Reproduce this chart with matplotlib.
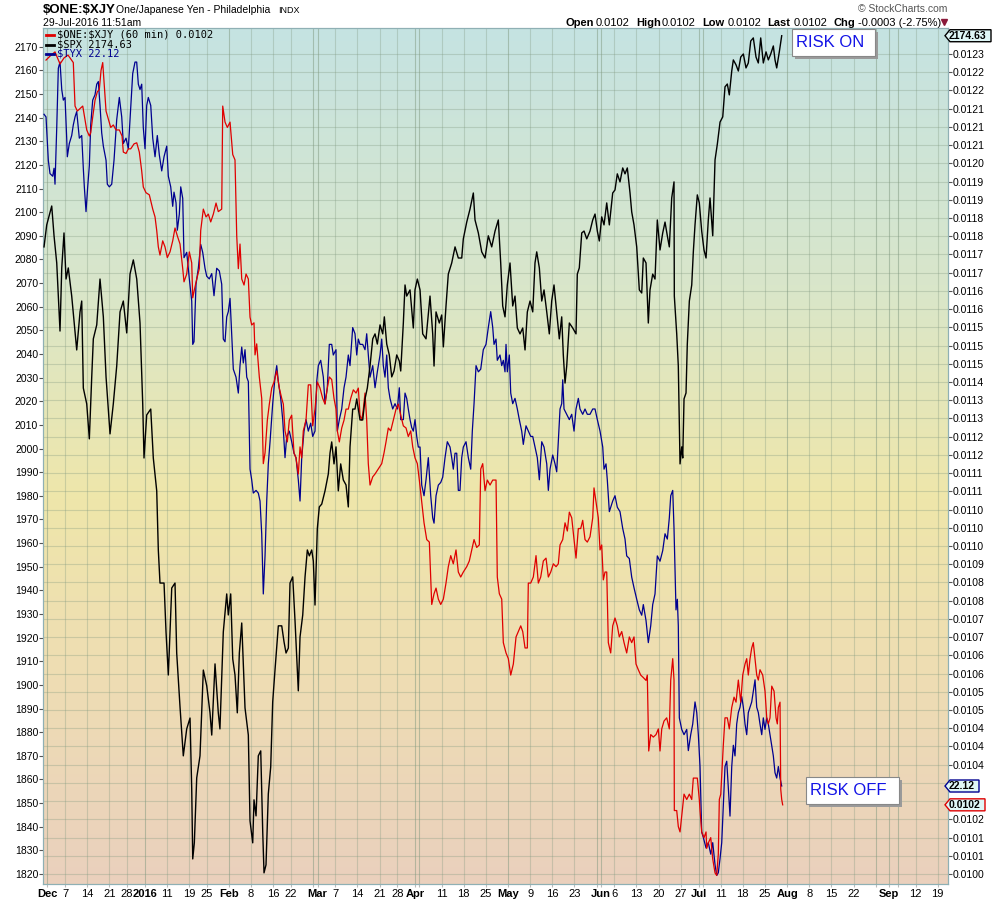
import numpy as np
import matplotlib
matplotlib.use('Agg')
import matplotlib.pyplot as plt
from matplotlib.colors import LinearSegmentedColormap
from matplotlib.patches import Rectangle, Polygon
from matplotlib.lines import Line2D

plt.rcParams['font.family'] = ['Liberation Sans', 'DejaVu Sans']

# time axis = trading days counted from 2015-12-07 (weekends / holidays squeezed out)
START = '2015-12-07'
holidays = ['2015-11-26', '2015-12-25', '2016-01-01', '2016-01-18', '2016-02-15',
            '2016-03-25', '2016-05-30', '2016-07-04', '2016-09-05']

# $SPX (left scale)
spx_pts = [
    (-4.74, 2085.3), (-4.13, 2094.6), (-3.0, 2102.6), (-2.48, 2090.0), (-1.87, 2078.5), (-1.13, 2049.7),
    (-0.74, 2076.4), (-0.23, 2091.2), (0.23, 2071.7), (0.74, 2076.4), (1.51, 2064.5), (2.64, 2041.7),
    (3.39, 2057.8), (3.77, 2062.4), (4.13, 2025.6), (4.9, 2018.9), (5.49, 2004.1), (6.03, 2030.3),
    (6.39, 2046.4), (7.16, 2052.3), (7.9, 2071.7), (8.65, 2055.7), (9.26, 2030.3), (9.77, 2016.7),
    (10.16, 2006.2), (10.9, 2018.9), (11.67, 2034.9), (12.42, 2057.8), (13.16, 2062.4), (13.93, 2048.9),
    (14.67, 2073.8), (15.42, 2079.8), (16.19, 2071.7), (16.93, 2053.1), (17.54, 2018.9), (17.83, 1996.0),
    (18.44, 2014.2), (19.35, 2016.7), (19.93, 1996.0), (20.7, 1982.1), (21.06, 1957.1), (21.44, 1943.1),
    (22.35, 1943.1), (22.8, 1922.4), (23.32, 1904.2), (24.09, 1941.0), (24.83, 1943.1), (25.21, 1913.5),
    (25.96, 1890.7), (26.7, 1870.0), (27.47, 1881.4), (28.22, 1886.0), (28.6, 1856.0), (28.83, 1826.4),
    (29.19, 1833.2), (29.73, 1860.7), (30.47, 1870.0), (31.22, 1906.3), (31.99, 1899.6), (32.73, 1888.2),
    (33.12, 1878.8), (33.86, 1908.9), (34.6, 1888.2), (34.97, 1881.4), (35.73, 1922.4), (36.5, 1938.5),
    (36.86, 1929.6), (37.4, 1938.5), (37.86, 1911.0), (38.37, 1904.2), (38.89, 1888.2), (39.35, 1913.5),
    (39.89, 1926.2), (40.25, 1908.9), (40.63, 1890.3), (41.38, 1878.8), (41.76, 1842.5), (42.37, 1833.2),
    (42.66, 1851.4), (43.12, 1844.6), (43.63, 1870.0), (44.18, 1872.1), (44.63, 1837.8), (44.92, 1820.5),
    (45.37, 1823.9), (45.89, 1853.9), (46.43, 1865.3), (46.88, 1892.8), (47.4, 1906.3), (48.15, 1925.0),
    (48.92, 1925.0), (49.44, 1918.2), (49.89, 1913.5), (50.41, 1915.6), (50.79, 1943.1), (51.4, 1945.7),
    (51.92, 1927.1), (52.66, 1897.5), (53.05, 1920.3), (53.66, 1929.6), (54.18, 1945.7), (54.7, 1957.1),
    (55.15, 1954.6), (55.69, 1957.1), (56.05, 1952.4), (56.43, 1933.8), (56.95, 1966.0), (57.4, 1975.3),
    (57.95, 1976.5), (58.69, 1982.1), (59.44, 1989.3), (59.82, 1998.1), (60.2, 2002.8), (60.72, 1993.5),
    (61.17, 2000.7), (61.69, 1982.1), (62.23, 1993.5), (62.82, 1986.7), (63.43, 1984.6), (63.95, 1975.3),
    (64.33, 2000.7), (64.94, 2016.7), (65.46, 2016.7), (65.85, 2021.0), (66.59, 2012.1), (67.2, 2012.1),
    (67.72, 2021.0), (68.24, 2025.6), (68.85, 2034.9), (69.46, 2046.4), (69.98, 2048.5), (70.5, 2044.2),
    (71.11, 2052.3), (71.72, 2048.5), (72.08, 2055.7), (72.62, 2044.2), (73.2, 2039.6), (73.75, 2030.3),
    (74.27, 2032.8), (74.88, 2039.6), (75.46, 2037.0), (75.78, 2032.8), (76.37, 2053.1), (76.75, 2069.2),
    (77.13, 2064.5), (77.88, 2067.1), (78.62, 2051.0), (79.0, 2067.1), (79.53, 2071.7), (80.14, 2067.1),
    (80.74, 2048.5), (81.49, 2046.4), (82.39, 2064.5), (83.0, 2048.5), (83.3, 2034.9), (83.75, 2057.8),
    (84.49, 2053.1), (85.03, 2056.5), (85.4, 2043.0), (86.0, 2060.3), (86.52, 2073.8), (87.29, 2078.5),
    (88.04, 2085.3), (88.78, 2080.6), (89.55, 2080.6), (89.91, 2088.7), (90.68, 2095.8), (91.42, 2101.3),
    (92.17, 2108.1), (92.55, 2096.7), (93.3, 2091.2), (94.06, 2083.2), (94.81, 2080.6), (95.55, 2090.0),
    (96.32, 2085.3), (97.07, 2092.0), (97.81, 2096.7), (98.35, 2078.5), (98.8, 2060.3), (99.32, 2055.7),
    (99.84, 2069.2), (100.45, 2078.5), (101.06, 2060.3), (101.58, 2064.5), (102.1, 2051.0), (102.71, 2048.5),
    (103.32, 2051.0), (103.84, 2041.7), (104.36, 2057.8), (104.97, 2062.4), (105.58, 2057.8), (106.09, 2078.5),
    (106.48, 2083.2), (107.07, 2076.4), (107.61, 2062.4), (108.13, 2067.1), (108.74, 2057.8), (109.32, 2048.5),
    (109.86, 2062.4), (110.38, 2069.2), (110.99, 2057.8), (111.58, 2046.4), (112.12, 2055.7), (112.48, 2039.6),
    (112.87, 2027.7), (113.25, 2034.9), (113.84, 2053.1), (114.6, 2051.0), (115.35, 2048.5), (115.64, 2073.8),
    (116.09, 2076.4), (116.64, 2091.2), (117.16, 2092.0), (117.77, 2088.7), (118.51, 2092.0), (119.12, 2096.7),
    (119.64, 2099.2), (120.16, 2092.0), (120.61, 2087.8), (121.15, 2098.0), (121.67, 2094.6), (122.28, 2103.9),
    (122.87, 2094.6), (123.63, 2108.1), (124.15, 2109.4), (124.67, 2116.2), (125.28, 2112.8), (125.89, 2118.7),
    (126.41, 2116.2), (126.93, 2118.7), (127.54, 2108.1), (127.92, 2100.1), (128.44, 2094.6), (129.05, 2085.3),
    (129.64, 2067.1), (130.18, 2065.8), (130.54, 2080.6), (131.15, 2078.5), (131.67, 2053.1), (132.05, 2067.1),
    (132.66, 2073.8), (133.18, 2071.7), (133.7, 2096.7), (134.31, 2084.0), (134.92, 2091.2), (135.44, 2095.8),
    (135.96, 2090.0), (136.41, 2085.3), (136.95, 2106.0), (137.47, 2112.8), (137.54, 2064.5), (138.08, 2048.5),
    (138.44, 2034.9), (138.83, 1993.5), (139.21, 2000.7), (139.44, 1996.0), (139.73, 2021.0), (140.18, 2023.5),
    (140.47, 2044.2), (140.93, 2062.4), (141.47, 2069.2), (141.83, 2083.2), (142.21, 2094.6), (142.73, 2107.3),
    (143.18, 2103.9), (143.72, 2092.0), (144.24, 2084.0), (144.7, 2080.6), (145.21, 2096.7), (145.6, 2106.0),
    (146.21, 2090.0), (146.73, 2122.1), (147.25, 2128.8), (147.86, 2138.1), (148.47, 2140.3), (148.98, 2153.0),
    (149.5, 2154.2), (149.95, 2149.6), (150.5, 2159.7), (150.86, 2164.4), (151.47, 2162.3), (151.99, 2159.7),
    (152.53, 2165.6), (153.12, 2166.9), (153.72, 2161.0), (154.24, 2163.1), (154.79, 2172.4), (155.37, 2173.7),
    (155.98, 2165.6), (156.5, 2163.1), (157.04, 2173.7), (157.63, 2163.1), (158.24, 2167.8), (158.76, 2164.4),
    (159.3, 2166.9), (159.89, 2170.3), (160.27, 2164.4), (160.65, 2161.0), (161.24, 2167.8), (161.78, 2174.63),
]

# $ONE:$XJY (right scale)
xjy_pts = [
    (-4.29, 0.012283), (-3.39, 0.012294), (-2.26, 0.012306), (-1.13, 0.012272), (-0.23, 0.012289), (0.68, 0.012297),
    (1.87, 0.012276), (2.26, 0.012154), (2.78, 0.012140), (3.39, 0.012147), (4.0, 0.012154), (4.29, 0.012132),
    (4.9, 0.012087), (5.49, 0.012070), (5.8, 0.012079), (6.25, 0.012123), (6.77, 0.012170), (7.29, 0.012194),
    (7.74, 0.012200), (8.13, 0.012254), (8.51, 0.012276), (8.8, 0.012223), (9.26, 0.012140), (9.77, 0.012118),
    (10.32, 0.012094), (10.9, 0.012101), (11.51, 0.012087), (12.26, 0.012087), (12.87, 0.012070), (13.16, 0.012025),
    (13.77, 0.012021), (14.29, 0.012034), (14.83, 0.012034), (15.58, 0.012048), (16.19, 0.012051), (16.77, 0.012025),
    (17.31, 0.011972), (17.67, 0.011927), (18.28, 0.011911), (19.03, 0.011905), (19.8, 0.011865), (20.32, 0.011843),
    (20.7, 0.011805), (21.06, 0.011759), (21.44, 0.011736), (22.05, 0.011776), (22.57, 0.011759), (23.09, 0.011729),
    (23.7, 0.011745), (24.31, 0.011776), (24.83, 0.011812), (25.35, 0.011790), (25.96, 0.011767), (26.57, 0.011698),
    (26.86, 0.011661), (27.47, 0.011683), (28.06, 0.011745), (28.6, 0.011714), (28.83, 0.011616), (29.19, 0.011638),
    (29.73, 0.011669), (30.32, 0.011698), (30.63, 0.011805), (31.22, 0.011865), (31.83, 0.011843), (32.35, 0.011851),
    (32.89, 0.011829), (33.48, 0.011851), (34.09, 0.011882), (34.6, 0.011858), (35.37, 0.011865), (35.6, 0.012154),
    (36.12, 0.012109), (36.64, 0.012094), (37.25, 0.012109), (37.86, 0.012018), (38.37, 0.012003), (38.76, 0.011790),
    (39.12, 0.011698), (39.5, 0.011767), (39.89, 0.011669), (40.41, 0.011652), (40.86, 0.011683), (41.38, 0.011669),
    (41.76, 0.011562), (42.14, 0.011540), (42.66, 0.011546), (42.89, 0.011456), (43.27, 0.011487), (43.86, 0.011394),
    (44.4, 0.011334), (44.76, 0.011151), (45.15, 0.011181), (45.67, 0.011273), (46.12, 0.011318), (46.66, 0.011363),
    (47.18, 0.011380), (47.79, 0.011411), (48.37, 0.011363), (48.92, 0.011334), (49.28, 0.011318), (49.66, 0.011243),
    (50.18, 0.011212), (50.63, 0.011273), (51.17, 0.011287), (51.69, 0.011181), (52.14, 0.011167), (52.66, 0.011122),
    (53.05, 0.011198), (53.43, 0.011167), (53.79, 0.011243), (54.4, 0.011273), (54.92, 0.011372), (55.46, 0.011372),
    (55.91, 0.011257), (56.43, 0.011304), (56.95, 0.011380), (57.56, 0.011363), (58.17, 0.011334), (58.69, 0.011318),
    (59.21, 0.011363), (59.66, 0.011394), (60.2, 0.011387), (60.72, 0.011334), (61.17, 0.011304), (61.47, 0.011243),
    (61.92, 0.011212), (62.46, 0.011251), (62.98, 0.011273), (63.43, 0.011304), (63.95, 0.011304), (64.49, 0.011334),
    (65.08, 0.011358), (65.69, 0.011349), (66.21, 0.011363), (66.59, 0.011287), (66.98, 0.011273), (67.34, 0.011304),
    (67.72, 0.011349), (68.1, 0.011273), (68.46, 0.011151), (68.85, 0.011091), (69.46, 0.011114), (69.98, 0.011122),
    (70.72, 0.011136), (71.49, 0.011151), (72.01, 0.011181), (72.46, 0.011212), (72.98, 0.011251), (73.52, 0.011243),
    (74.11, 0.011273), (74.72, 0.011304), (75.24, 0.011318), (75.78, 0.011287), (76.37, 0.011257), (76.98, 0.011251),
    (77.49, 0.011227), (78.04, 0.011243), (78.49, 0.011198), (79.01, 0.011167), (79.53, 0.011151), (79.98, 0.011105),
    (80.52, 0.011045), (81.04, 0.010985), (81.65, 0.010938), (82.24, 0.010931), (82.78, 0.010756), (83.3, 0.010786),
    (83.75, 0.010802), (84.27, 0.010771), (84.81, 0.010756), (85.4, 0.010771), (86.0, 0.010816), (86.52, 0.010862),
    (87.07, 0.010893), (87.65, 0.010870), (88.26, 0.010909), (88.78, 0.010847), (89.32, 0.010833), (89.91, 0.010847),
    (90.68, 0.010862), (91.26, 0.010878), (91.8, 0.010909), (92.33, 0.010938), (92.93, 0.010916), (93.52, 0.010923),
    (93.84, 0.011136), (94.29, 0.011151), (94.81, 0.011075), (95.33, 0.011105), (95.94, 0.011091), (96.55, 0.011105),
    (97.29, 0.011105), (97.58, 0.010833), (98.04, 0.010786), (98.58, 0.010771), (98.94, 0.010649), (99.55, 0.010620),
    (100.07, 0.010604), (100.61, 0.010558), (101.2, 0.010589), (101.81, 0.010665), (102.33, 0.010680), (102.87, 0.010696),
    (103.32, 0.010680), (103.84, 0.010634), (104.36, 0.010634), (104.58, 0.010816), (105.12, 0.010816), (105.71, 0.010833),
    (106.32, 0.010893), (106.84, 0.010816), (107.38, 0.010833), (107.97, 0.010878), (108.58, 0.010886), (109.1, 0.010833),
    (109.64, 0.010847), (110.23, 0.010870), (110.84, 0.010862), (111.35, 0.010870), (111.74, 0.010923), (112.35, 0.010938),
    (112.87, 0.010985), (113.39, 0.010962), (113.84, 0.011015), (114.38, 0.010999), (114.9, 0.010938), (115.35, 0.010886),
    (115.87, 0.010969), (116.41, 0.010969), (116.86, 0.010992), (117.38, 0.010938), (117.9, 0.010931), (118.51, 0.010946),
    (119.12, 0.010999), (119.41, 0.011083), (119.86, 0.011045), (120.38, 0.010999), (120.77, 0.010909), (121.15, 0.010923),
    (121.51, 0.010825), (121.9, 0.010847), (122.28, 0.010847), (122.64, 0.010649), (123.18, 0.010620), (123.63, 0.010696),
    (124.15, 0.010718), (124.67, 0.010696), (125.12, 0.010665), (125.67, 0.010680), (126.19, 0.010649), (126.79, 0.010620),
    (127.38, 0.010665), (127.92, 0.010649), (128.44, 0.010665), (128.89, 0.010589), (129.41, 0.010573), (129.95, 0.010558),
    (130.54, 0.010551), (131.15, 0.010543), (131.44, 0.010558), (131.76, 0.010345), (132.21, 0.010391), (132.8, 0.010384),
    (133.41, 0.010391), (133.93, 0.010407), (134.31, 0.010345), (134.7, 0.010407), (135.21, 0.010429), (135.82, 0.010438),
    (136.41, 0.010407), (136.73, 0.010544), (137.18, 0.010604), (137.47, 0.010544), (137.54, 0.010178), (138.08, 0.010178),
    (138.44, 0.010133), (138.83, 0.010118), (139.21, 0.010163), (139.73, 0.010224), (140.34, 0.010209), (140.93, 0.010224),
    (141.47, 0.010209), (141.83, 0.010269), (142.21, 0.010269), (142.73, 0.010269), (143.18, 0.010209), (143.34, 0.010178),
    (143.72, 0.010118), (144.24, 0.010102), (144.7, 0.010118), (144.85, 0.010072), (145.21, 0.010087), (145.76, 0.010102),
    (146.21, 0.010042), (146.73, 0.010003), (147.11, 0.009996), (147.47, 0.010056), (147.7, 0.010209), (148.02, 0.010224),
    (148.6, 0.010362), (148.98, 0.010438), (149.5, 0.010438), (149.95, 0.010407), (150.5, 0.010467), (151.02, 0.010496),
    (151.47, 0.010482), (151.99, 0.010544), (152.53, 0.010482), (152.98, 0.010558), (153.5, 0.010589), (153.88, 0.010604),
    (154.24, 0.010558), (154.63, 0.010604), (155.01, 0.010634), (155.37, 0.010649), (155.76, 0.010604), (156.14, 0.010558),
    (156.5, 0.010544), (156.88, 0.010573), (157.49, 0.010558), (158.01, 0.010513), (158.4, 0.010438), (158.76, 0.010421),
    (159.14, 0.010438), (159.53, 0.010527), (160.05, 0.010513), (160.5, 0.010438), (160.79, 0.010421), (161.02, 0.010467),
    (161.4, 0.010482), (161.56, 0.010238), (161.78, 0.010209), (162.0, 0.010194),
]

# $TYX (own hidden scale)
tyx_pts = [
    (-4.74, 29.71), (-4.29, 29.68), (-3.77, 29.19), (-3.39, 29.04), (-2.78, 29.01), (-2.48, 29.10), (-2.26, 28.92),
    (-1.87, 29.56), (-1.51, 30.23), (-1.13, 30.30), (-0.74, 29.99), (-0.38, 29.87), (0.0, 29.90), (0.38, 29.44),
    (0.52, 29.23), (0.97, 29.38), (1.51, 29.47), (1.87, 29.59), (2.26, 29.68), (2.64, 29.74), (3.23, 29.44),
    (3.77, 29.47), (4.13, 29.10), (4.36, 28.89), (4.74, 28.61), (5.12, 28.89), (5.49, 29.13), (5.80, 29.59),
    (6.25, 29.87), (6.77, 29.93), (7.16, 30.05), (7.52, 30.08), (7.90, 29.81), (8.28, 29.50), (8.65, 29.35),
    (9.26, 29.19), (9.55, 28.92), (10.0, 28.89), (10.54, 28.92), (11.06, 29.19), (11.67, 29.65), (12.26, 29.90),
    (12.80, 29.68), (13.16, 29.38), (13.77, 29.44), (14.29, 29.32), (14.83, 29.78), (15.28, 30.17), (15.80, 30.30),
    (16.18, 30.30), (16.55, 30.05), (16.93, 29.99), (17.31, 30.05), (17.67, 29.56), (18.06, 29.32), (18.44, 29.81),
    (18.80, 29.90), (19.35, 29.81), (19.80, 29.44), (20.32, 29.23), (20.83, 29.47), (21.29, 29.25), (21.83, 29.07),
    (22.35, 29.23), (22.96, 29.35), (23.32, 29.01), (23.86, 28.89), (24.31, 28.67), (24.60, 28.83), (25.06, 28.71),
    (25.35, 28.40), (25.80, 28.58), (26.12, 28.89), (26.57, 28.76), (26.86, 28.09), (27.47, 28.15), (28.06, 27.85),
    (28.60, 27.60), (28.83, 27.11), (29.12, 27.14), (29.57, 27.79), (30.09, 27.97), (30.63, 28.24), (31.08, 28.15),
    (31.60, 27.97), (31.99, 27.88), (32.57, 27.85), (33.12, 27.91), (33.63, 27.66), (34.24, 27.97), (34.83, 27.94),
    (35.37, 27.79), (35.73, 27.17), (36.12, 27.14), (36.50, 27.42), (36.86, 27.48), (37.25, 27.63), (37.63, 27.23),
    (37.99, 26.83), (38.60, 26.74), (39.12, 26.56), (39.50, 26.87), (39.89, 27.08), (40.25, 26.90), (40.63, 27.05),
    (41.02, 26.74), (41.38, 26.69), (41.76, 25.70), (42.14, 25.58), (42.50, 25.43), (43.12, 25.46), (43.63, 25.43),
    (44.02, 25.34), (44.40, 24.97), (44.76, 24.29), (45.15, 24.72), (45.53, 25.34), (45.89, 25.76), (46.28, 26.01),
    (46.88, 26.44), (47.40, 26.74), (47.79, 26.87), (48.15, 26.69), (48.69, 26.50), (49.14, 26.26), (49.66, 25.83),
    (50.05, 26.07), (50.63, 26.13), (51.17, 26.01), (51.69, 25.88), (52.14, 25.83), (52.66, 25.58), (53.05, 25.34),
    (53.43, 25.83), (53.95, 26.13), (54.40, 26.26), (54.92, 26.13), (55.46, 26.22), (55.91, 26.07), (56.43, 26.13),
    (56.82, 26.69), (57.18, 26.87), (57.72, 26.93), (58.31, 26.74), (58.69, 26.44), (59.21, 26.62), (59.66, 27.11),
    (60.20, 27.11), (60.56, 26.99), (61.17, 27.05), (61.47, 26.13), (61.92, 26.26), (62.46, 26.38), (62.98, 26.62),
    (63.43, 26.74), (63.95, 26.99), (64.33, 26.87), (64.94, 27.30), (65.46, 27.23), (65.85, 26.99), (66.21, 27.17),
    (66.59, 27.11), (67.20, 27.11), (67.72, 27.05), (68.10, 27.23), (68.46, 26.99), (68.85, 26.74), (69.46, 26.87),
    (69.98, 26.62), (70.50, 26.80), (71.11, 26.99), (71.49, 27.17), (71.85, 26.87), (72.23, 26.74), (72.62, 26.99),
    (72.98, 26.62), (73.36, 26.50), (73.97, 26.38), (74.49, 26.44), (75.01, 26.38), (75.46, 26.62), (75.78, 26.26),
    (76.37, 26.26), (76.75, 26.56), (77.13, 26.50), (77.49, 26.38), (77.88, 26.26), (78.26, 26.17), (78.62, 26.13),
    (79.01, 26.26), (79.39, 26.07), (79.75, 25.95), (80.14, 25.95), (80.52, 25.52), (81.04, 25.40), (81.49, 25.58),
    (82.01, 25.83), (82.55, 25.40), (83.0, 25.15), (83.30, 25.09), (83.75, 25.40), (84.27, 25.52), (84.81, 25.55),
    (85.26, 25.61), (85.78, 25.83), (86.30, 26.01), (86.91, 25.95), (87.29, 25.83), (87.65, 25.70), (88.04, 25.88),
    (88.42, 25.88), (88.78, 25.46), (89.16, 25.46), (89.55, 25.83), (89.91, 25.95), (90.52, 26.01), (91.04, 25.83),
    (91.58, 25.70), (91.94, 26.13), (92.33, 26.44), (92.78, 26.87), (93.30, 26.80), (93.84, 26.83), (94.42, 27.05),
    (95.03, 27.11), (95.55, 27.30), (96.09, 27.48), (96.55, 27.30), (96.84, 27.11), (97.29, 27.17), (97.58, 26.93),
    (98.19, 26.99), (98.58, 26.87), (98.94, 26.93), (99.32, 26.80), (99.55, 27.11), (99.84, 26.80), (100.29, 26.99),
    (100.61, 26.56), (101.06, 26.44), (101.58, 26.50), (102.10, 26.38), (102.55, 26.26), (103.09, 26.13), (103.45, 25.98),
    (104.06, 26.19), (104.58, 26.13), (105.12, 26.07), (105.58, 26.07), (106.09, 25.95), (106.61, 25.83), (107.07, 25.58),
    (107.61, 26.01), (108.13, 25.95), (108.74, 25.76), (109.10, 25.46), (109.48, 25.70), (110.09, 25.86), (110.61, 25.76),
    (110.99, 25.67), (111.35, 26.01), (111.74, 26.38), (112.12, 26.44), (112.35, 26.71), (112.64, 26.38), (113.25, 26.32),
    (113.84, 26.26), (114.38, 26.32), (114.90, 26.13), (115.35, 26.38), (115.87, 26.50), (116.25, 26.38), (116.86, 26.32),
    (117.38, 26.38), (117.90, 26.32), (118.51, 26.32), (119.12, 26.38), (119.64, 26.38), (120.16, 26.26), (120.77, 26.13),
    (121.38, 25.95), (121.67, 25.70), (122.12, 25.76), (122.41, 25.58), (122.87, 25.22), (123.63, 25.34), (124.15, 25.40),
    (124.67, 25.27), (125.28, 25.22), (125.89, 25.03), (126.41, 24.91), (126.79, 24.72), (127.38, 24.69), (127.92, 24.48),
    (128.44, 24.36), (129.05, 24.23), (129.64, 24.11), (130.18, 24.05), (130.54, 24.17), (131.15, 23.99), (131.67, 23.74),
    (132.21, 23.93), (132.66, 24.17), (133.18, 24.29), (133.70, 24.72), (134.31, 24.66), (134.92, 24.78), (135.44, 24.97),
    (135.96, 24.91), (136.41, 25.15), (136.73, 25.40), (137.18, 25.46), (137.47, 25.03), (137.70, 24.54), (137.92, 24.11),
    (138.22, 24.23), (138.44, 23.93), (138.67, 22.89), (139.21, 22.76), (139.73, 22.70), (140.34, 22.76), (140.70, 22.52),
    (141.24, 22.70), (141.69, 22.82), (142.21, 23.07), (142.60, 22.95), (142.96, 22.70), (143.34, 22.34), (143.72, 21.60),
    (144.08, 21.54), (144.70, 21.42), (145.21, 21.48), (145.76, 21.35), (146.21, 21.48), (146.73, 21.23), (147.11, 21.11),
    (147.47, 21.14), (147.86, 21.30), (148.24, 21.48), (148.60, 21.91), (148.98, 22.34), (149.37, 22.40), (149.73, 22.09),
    (150.11, 21.78), (150.50, 22.34), (150.86, 22.58), (151.24, 22.46), (151.62, 22.82), (151.99, 22.95), (152.37, 23.01),
    (152.75, 23.13), (153.12, 23.01), (153.50, 22.82), (153.88, 22.70), (154.24, 22.95), (154.63, 23.01), (155.01, 23.07),
    (155.37, 23.19), (155.76, 23.32), (156.14, 23.01), (156.50, 22.95), (156.88, 22.82), (157.27, 22.70), (157.63, 22.89),
    (158.01, 22.76), (158.40, 22.89), (158.76, 22.82), (159.14, 22.70), (159.53, 22.58), (159.89, 22.46), (160.27, 22.27),
    (160.65, 22.21), (161.02, 22.34), (161.40, 22.21), (161.78, 22.12),
]

spx_last, xjy_last, tyx_last = 2174.63, 0.0102, 22.12

left_ticks = list(range(1820, 2171, 10))
# right-hand scale labels, bottom to top, as printed on the chart
right_labels = ['0.0100', '0.0101', '0.0101', '0.0102', '0.0102', '0.0103', '0.0104', '0.0104', '0.0104', '0.0105',
                '0.0105', '0.0106', '0.0106', '0.0107', '0.0107', '0.0108', '0.0108', '0.0109', '0.0110', '0.0110',
                '0.0110', '0.0111', '0.0111', '0.0112', '0.0112', '0.0113', '0.0113', '0.0114', '0.0115', '0.0115',
                '0.0115', '0.0116', '0.0116', '0.0117', '0.0117', '0.0118', '0.0118', '0.0119', '0.0119', '0.0120',
                '0.0121', '0.0121', '0.0121', '0.0122', '0.0122', '0.0123']

tick_dates = ['2015-12-01', '2015-12-07', '2015-12-14', '2015-12-21', '2015-12-28', '2016-01-04', '2016-01-11',
              '2016-01-19', '2016-01-25', '2016-02-01', '2016-02-08', '2016-02-16', '2016-02-22', '2016-02-29',
              '2016-03-01', '2016-03-07', '2016-03-14', '2016-03-21', '2016-03-28', '2016-04-01', '2016-04-04',
              '2016-04-11', '2016-04-18', '2016-04-25', '2016-05-02', '2016-05-09', '2016-05-16', '2016-05-23',
              '2016-05-31', '2016-06-01', '2016-06-06', '2016-06-13', '2016-06-20', '2016-06-27', '2016-07-01',
              '2016-07-05', '2016-07-11', '2016-07-18', '2016-07-25', '2016-08-01', '2016-08-08', '2016-08-15',
              '2016-08-22', '2016-08-29', '2016-09-01', '2016-09-06', '2016-09-12', '2016-09-19']
tick_labels = ['Dec', '7', '14', '21', '28', '2016', '11', '19', '25', 'Feb', '8', '16', '22', '',
               'Mar', '7', '14', '21', '28', 'Apr', '', '11', '18', '25', 'May', '9', '16', '23',
               '', 'Jun', '6', '13', '20', '27', 'Jul', '', '11', '18', '25', 'Aug', '8', '15',
               '22', '', 'Sep', '', '12', '19']
month_labels = {'Dec', '2016', 'Feb', 'Mar', 'Apr', 'May', 'Jun', 'Jul', 'Aug', 'Sep'}

W, H = 1000, 900


def tday(d):
    return np.busday_count(START, d, holidays=holidays)


def fx(x, y):
    # pixel position -> figure fraction
    return x / W, 1 - y / H


fig = plt.figure(figsize=(W / 100, H / 100), dpi=100)
ax = fig.add_axes([0.043, 0.0178, 0.9047, 0.9511])

# background gradient
cmap = LinearSegmentedColormap.from_list('bg', [(0.0, '#c5e3e2'), (0.3, '#d9e6ca'), (0.55, '#efe6aa'),
                                                (0.78, '#eedcb4'), (1.0, '#ead0bd')])
grad = np.linspace(0, 1, 256).reshape(-1, 1)
ax.imshow(grad, extent=[0, 1, 0, 1], transform=ax.transAxes, aspect='auto', cmap=cmap, zorder=0)
ax.set_facecolor('none')

xmin, xmax = -4.97, 199.25
ax.set_xlim(xmin, xmax)
ax.set_ylim(1815.8, 2177.9)

tick_pos = [tday(d) for d in tick_dates]
for p, lab in zip(tick_pos, tick_labels):
    month = lab in month_labels or lab == ''
    ax.axvline(p, color='#7f987f', lw=0.8, alpha=0.5 if month else 0.32, zorder=1)

ax.set_xticks(tick_pos)
ax.set_xticklabels(tick_labels, fontsize=8)
for t, lab in zip(ax.get_xticklabels(), tick_labels):
    if lab in month_labels:
        t.set_fontweight('bold')
ax.tick_params(axis='x', length=2, pad=1.5, color='#bbbbbb')

ax.set_yticks(left_ticks)
ax.set_yticklabels([str(v) for v in left_ticks], fontsize=7.5)
ax.tick_params(axis='y', length=3, pad=0.5, color='#555555')

# right scale + horizontal grid
ax_r = ax.twinx()
r_lo, r_hi = 0.009972, 0.012373
ax_r.set_ylim(r_lo, r_hi)
r_ticks = np.linspace(0.0100, 0.0123, len(right_labels))
# the two labels sitting under the last-value tags are covered in the chart
shown = [lab if k not in (4, 5) else '' for k, lab in enumerate(right_labels)]
ax_r.set_yticks(r_ticks)
ax_r.set_yticklabels(shown, fontsize=7.5)
ax_r.tick_params(axis='y', length=3, pad=0.5, color='#555555')
for v in r_ticks:
    ax_r.axhline(v, color='#7f987f', lw=0.8, alpha=0.32, zorder=1)

for a in (ax, ax_r):
    for s in a.spines.values():
        s.set_color('#8fb0b4')

# data layers
ax_b = ax.twinx()
ax_b.set_ylim(21.013, 30.685)
ax_b.set_axis_off()
t, v = np.array(tyx_pts).T
ax_b.plot(t, v, color='#000090', lw=0.9)

ax_x = ax.twinx()
ax_x.set_ylim(r_lo, r_hi)
ax_x.set_axis_off()
t, v = np.array(xjy_pts).T
ax_x.plot(t, v, color='#e00000', lw=0.9)

ax_k = ax.twinx()
ax_k.set_ylim(1815.8, 2177.9)
ax_k.set_axis_off()
t, v = np.array(spx_pts).T
ax_k.plot(t, v, color='black', lw=1.0)
ax_k.set_xlim(xmin, xmax)

# header
fig.text(*fx(43, 10), '$ONE:$XJY', fontsize=9.5, fontweight='bold', va='center', parse_math=False)
fig.text(*fx(116, 10), 'One/Japanese Yen - Philadelphia', fontsize=7.5, va='center')
fig.text(*fx(278, 10.5), 'INDX', fontsize=6.5, va='center')
fig.text(*fx(43, 23), '29-Jul-2016 11:51am', fontsize=7.5, va='center')
fig.text(*fx(947, 8.5), '\u00a9 StockCharts.com', fontsize=7.5, va='center', ha='right', color='#555555')

quote = [(565, 'Open', 'bold'), (596, '0.0102', 'normal'), (636, 'High', 'bold'), (662, '0.0102', 'normal'),
         (702, 'Low', 'bold'), (728, '0.0102', 'normal'), (767, 'Last', 'bold'), (794, '0.0102', 'normal'),
         (834, 'Chg', 'bold'), (858, '-0.0003 (-2.75%)', 'normal')]
for x, s, w in quote:
    fig.text(*fx(x, 22.5), s, fontsize=8, fontweight=w, va='center')
fig.add_artist(Line2D([fx(944, 0)[0]], [fx(0, 22)[1]], marker='v', ms=4.5, color='#8b1a3a', ls='none'))

# legend
legend = [('$ONE:$XJY (60 min) 0.0102', '#e00000', 'black', 34.5),
          ('$SPX 2174.63', 'black', 'black', 44.5),
          ('$TYX 22.12', '#000090', '#000090', 54)]
for s, lc, tc, y in legend:
    fig.add_artist(Line2D([fx(46, 0)[0], fx(54, 0)[0]], [fx(0, y)[1]] * 2, color=lc, lw=2))
    fig.text(*fx(57, y), s, fontsize=7.5, color=tc, va='center', family='DejaVu Sans Mono', parse_math=False)


# last value tags on the right edge
def tag(axis, value, text, edge, width):
    yd = axis.transData.transform((0, value))[1]
    y = H - yd
    x0, x1, h = 945, 945 + width, 6
    pts = [fx(x0, y), fx(x0 + 5, y - h), fx(x1, y - h), fx(x1, y + h), fx(x0 + 5, y + h)]
    fig.add_artist(Polygon(pts, closed=True, transform=fig.transFigure, fc='#dff6f6', ec=edge, lw=1, zorder=5))
    fig.text(*fx(x0 + 4, y), text, fontsize=7.5, fontweight='bold', va='center', zorder=6)


tag(ax_k, spx_last, '2174.63', 'black', 46)
tag(ax_b, tyx_last, '22.12', '#000090', 34)
tag(ax_x, xjy_pts[-1][1], '0.0102', '#e00000', 40)


# annotation boxes
def note(x0, y0, x1, y1, text):
    w, h = (x1 - x0) / W, (y1 - y0) / H
    sx, sy = fx(x0 + 3, y1 + 3)
    fig.add_artist(Rectangle((sx, sy), w, h, transform=fig.transFigure, fc='#9a9a9a', ec='none', zorder=5))
    bx, by = fx(x0, y1)
    fig.add_artist(Rectangle((bx, by), w, h, transform=fig.transFigure, fc='white', ec='#888888', lw=0.8, zorder=6))
    fig.text(*fx(x0 + 4, (y0 + y1) / 2), text, fontsize=12, color='#1414e6', va='center', zorder=7)


note(792, 29, 875, 56, 'RISK ON')
note(806, 777, 899, 804, 'RISK OFF')

fig.savefig('out.png', dpi=100)
